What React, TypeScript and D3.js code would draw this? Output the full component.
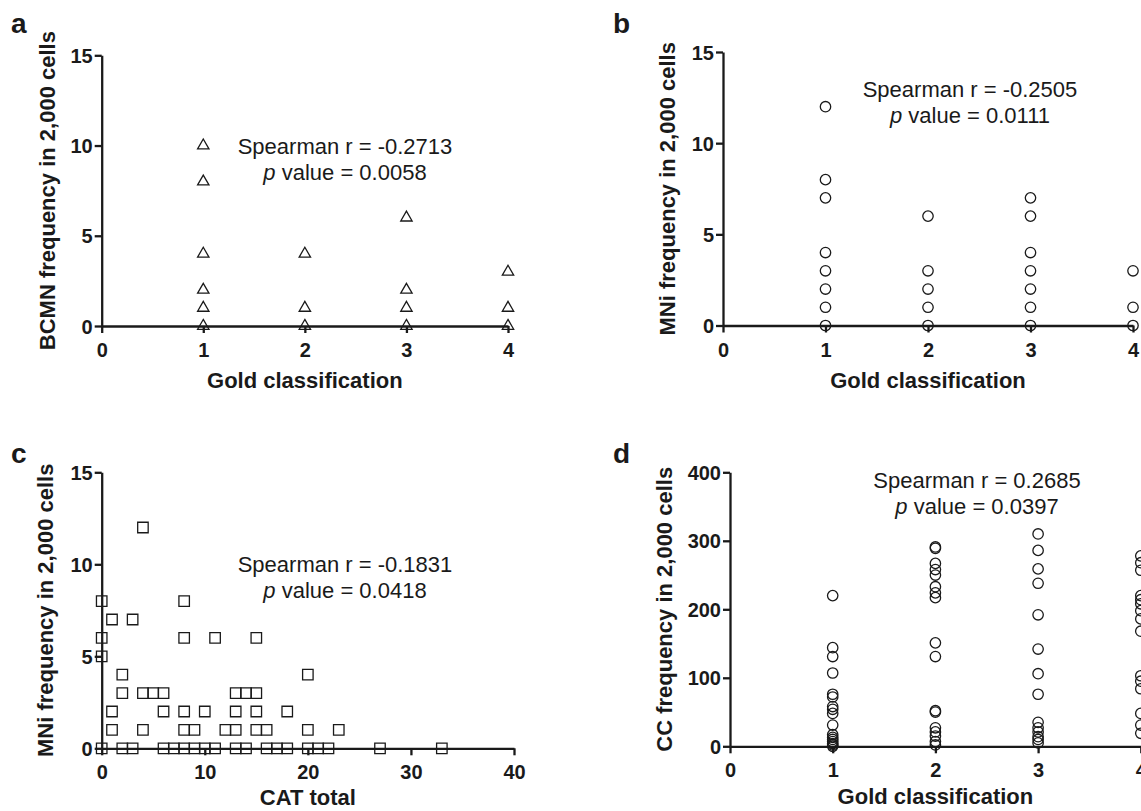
import React, { useRef, useEffect } from "react";
import * as d3 from "d3";

// ---- data ----
const goldTicks = [0, 1, 2, 3, 4];
const freqTicks = [0, 5, 10, 15];
const catTicks = [0, 10, 20, 30, 40];
const ccTicks = [0, 100, 200, 300, 400];

// a: BCMN frequency per Gold class
const bcmnGold1 = [10, 8, 4, 2, 1, 0];
const bcmnGold2 = [4, 1, 0];
const bcmnGold3 = [6, 2, 1, 0];
const bcmnGold4 = [3, 1, 0];

// b: MNi frequency per Gold class
const mniGold1 = [12, 8, 7, 4, 3, 2, 1, 0];
const mniGold2 = [6, 3, 2, 1, 0];
const mniGold3 = [7, 6, 4, 3, 2, 1, 0];
const mniGold4 = [3, 1, 0];

// c: CAT total values, grouped by MNi frequency
const catAtMni12 = [4];
const catAtMni8 = [0, 8];
const catAtMni7 = [1, 3];
const catAtMni6 = [0, 8, 11, 15];
const catAtMni5 = [0];
const catAtMni4 = [2, 20];
const catAtMni3 = [2, 4, 5, 6, 13, 14, 15];
const catAtMni2 = [1, 6, 8, 10, 13, 15, 18];
const catAtMni1 = [1, 4, 8, 9, 12, 13, 15, 16, 20, 23];
const catAtMni0 = [0, 2, 3, 6, 7, 8, 9, 10, 11, 13, 14, 16, 17, 18, 20, 21, 22, 27, 33];

// d: CC frequency per Gold class
const ccGold1 = [220, 144, 131, 107, 76, 72, 58, 54, 48, 31, 17, 13, 10, 7, 4, 2, 0];
const ccGold2 = [291, 289, 267, 258, 250, 233, 224, 217, 151, 131, 52, 50, 27, 21, 15, 7, 2];
const ccGold3 = [310, 286, 259, 238, 192, 142, 106, 76, 35, 27, 21, 14, 10, 5];
const ccGold4 = [278, 268, 257, 220, 214, 208, 198, 186, 168, 103, 95, 84, 48, 31, 19];

const byGroup = (groups) => groups.flatMap((vals, i) => vals.map((v) => [i + 1, v]));
const byLevel = (levels) => levels.flatMap(([lvl, xs]) => xs.map((x) => [x, lvl]));

const FONT = "'Liberation Sans', Arial, Helvetica, sans-serif";
const INK = "#1a1a1a";

function Panel(props) {
  const gRef = useRef(null);

  useEffect(() => {
    const g = d3.select(gRef.current);
    g.selectAll("*").remove();

    const x = d3.scaleLinear().domain(props.xDomain).range(props.xRange);
    const y = d3.scaleLinear().domain(props.yDomain).range(props.yRange);
    const fmt = d3.format("d");

    // x axis
    const xa = g.append("g")
      .attr("transform", `translate(0,${y(0)})`)
      .call(d3.axisBottom(x).tickValues(props.xTicks).tickFormat(fmt).tickSize(7).tickSizeOuter(0));
    // y axis
    const ya = g.append("g")
      .attr("transform", `translate(${x(0)},0)`)
      .call(d3.axisLeft(y).tickValues(props.yTicks).tickFormat(fmt).tickSize(7).tickSizeOuter(0));

    [xa, ya].forEach((a) => {
      a.attr("font-family", FONT).attr("font-size", 20).attr("font-weight", "bold");
      a.select(".domain").attr("stroke", INK).attr("stroke-width", 2.3);
      a.selectAll(".tick line").attr("stroke", INK).attr("stroke-width", 2.3);
      a.selectAll(".tick text").attr("fill", INK);
    });
    xa.selectAll(".tick text").attr("y", 17).attr("dy", "0.71em");
    ya.selectAll(".tick text").attr("x", -9).attr("dy", "0.35em");

    // markers
    const sym = d3.symbol().type(props.symbol).size(props.symbolSize);
    g.append("g")
      .selectAll("path")
      .data(props.points)
      .join("path")
      .attr("transform", (d) => `translate(${x(d[0])},${y(d[1])})`)
      .attr("d", sym)
      .attr("fill", "none")
      .attr("stroke", INK)
      .attr("stroke-width", 1.3);

    // axis titles
    const midY = (props.yRange[0] + props.yRange[1]) / 2;
    g.append("text")
      .attr("transform", `translate(${props.yTitleX},${midY}) rotate(-90)`)
      .attr("text-anchor", "middle")
      .attr("dy", "0.35em")
      .attr("font-family", FONT).attr("font-size", 22).attr("font-weight", "bold")
      .attr("fill", INK)
      .text(props.yTitle);
    g.append("text")
      .attr("x", (props.xRange[0] + Math.min(props.xRange[1], 1141)) / 2)
      .attr("y", props.xTitleY)
      .attr("text-anchor", "middle")
      .attr("font-family", FONT).attr("font-size", 22).attr("font-weight", "bold")
      .attr("fill", INK)
      .text(props.xTitle);

    // panel letter
    g.append("text")
      .attr("x", props.letterPos[0]).attr("y", props.letterPos[1])
      .attr("font-family", FONT).attr("font-size", 28).attr("font-weight", "bold")
      .attr("fill", INK)
      .text(props.letter);

    // statistics
    const st = g.append("g")
      .attr("font-family", FONT).attr("font-size", 22).attr("fill", INK)
      .attr("text-anchor", "middle");
    st.append("text").attr("x", props.statPos[0]).attr("y", props.statPos[1])
      .text(`Spearman r = ${props.r}`);
    const p = st.append("text").attr("x", props.statPos[0]).attr("y", props.statPos[1] + 26);
    p.append("tspan").attr("font-style", "italic").text("p");
    p.append("tspan").text(` value = ${props.p}`);
  }, []);

  return <g ref={gRef} />;
}

export default function App() {
  const pointsA = byGroup([bcmnGold1, bcmnGold2, bcmnGold3, bcmnGold4]);
  const pointsB = byGroup([mniGold1, mniGold2, mniGold3, mniGold4]);
  const pointsC = byLevel([
    [12, catAtMni12], [8, catAtMni8], [7, catAtMni7], [6, catAtMni6], [5, catAtMni5],
    [4, catAtMni4], [3, catAtMni3], [2, catAtMni2], [1, catAtMni1], [0, catAtMni0],
  ]);
  const pointsD = byGroup([ccGold1, ccGold2, ccGold3, ccGold4]);

  return (
    <svg width={1141} height={811} style={{ position: "absolute", left: 0, top: 0, background: "#fff" }}>
      <rect width={1141} height={811} fill="#fff" />
      <Panel
        letter="a" letterPos={[11, 33]}
        xDomain={[0, 4]} xRange={[101.7, 508]} xTicks={goldTicks}
        yDomain={[0, 15]} yRange={[326, 55.3]} yTicks={freqTicks}
        points={pointsA} symbol={d3.symbolTriangle} symbolSize={56}
        yTitle="BCMN frequency in 2,000 cells" yTitleX={47}
        xTitle="Gold classification" xTitleY={388}
        statPos={[345, 154]} r="-0.2713" p="0.0058"
      />
      <Panel
        letter="b" letterPos={[613, 33]}
        xDomain={[0, 4]} xRange={[723, 1133]} xTicks={goldTicks}
        yDomain={[0, 15]} yRange={[325.5, 52]} yTicks={freqTicks}
        points={pointsB} symbol={d3.symbolCircle} symbolSize={85}
        yTitle="MNi frequency in 2,000 cells" yTitleX={667}
        xTitle="Gold classification" xTitleY={388}
        statPos={[970, 97]} r="-0.2505" p="0.0111"
      />
      <Panel
        letter="c" letterPos={[11, 463]}
        xDomain={[0, 40]} xRange={[101.7, 514]} xTicks={catTicks}
        yDomain={[0, 15]} yRange={[748.3, 472.3]} yTicks={freqTicks}
        points={pointsC} symbol={d3.symbolSquare} symbolSize={110}
        yTitle="MNi frequency in 2,000 cells" yTitleX={45}
        xTitle="CAT total" xTitleY={805}
        statPos={[345, 572]} r="-0.1831" p="0.0418"
      />
      <Panel
        letter="d" letterPos={[613, 463]}
        xDomain={[0, 4]} xRange={[730, 1140.8]} xTicks={goldTicks}
        yDomain={[0, 400]} yRange={[746.3, 472.3]} yTicks={ccTicks}
        points={pointsD} symbol={d3.symbolCircle} symbolSize={85}
        yTitle="CC frequency in 2,000 cells" yTitleX={664}
        xTitle="Gold classification" xTitleY={804}
        statPos={[977, 488]} r="0.2685" p="0.0397"
      />
    </svg>
  );
}
